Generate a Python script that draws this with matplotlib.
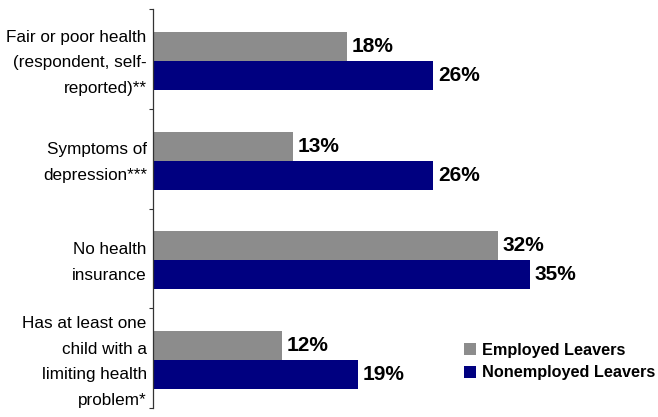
import matplotlib
matplotlib.use('Agg')
import numpy as np
import matplotlib.pyplot as plt
from matplotlib.patches import Patch

plt.rcParams['font.family'] = ['Liberation Sans', 'DejaVu Sans']

categories = ['Fair or poor health\n(respondent, self-\nreported)**',
              'Symptoms of\ndepression***',
              'No health\ninsurance',
              'Has at least one\nchild with a\nlimiting health\nproblem*']
employed = [18, 13, 32, 12]
nonemployed = [26, 26, 35, 19]
series_names = ['Employed Leavers', 'Nonemployed Leavers']

gray = '#8c8c8c'
navy = '#000080'

fig = plt.figure(figsize=(6.58, 4.17), dpi=100)
ax = fig.add_axes([153/658., 9/417., 1 - 153/658., 1 - 18/417.])

pos = np.arange(len(categories))
h = 0.29
ax.barh(pos - 0.125, employed, height=h, color=gray, edgecolor='none')
ax.barh(pos + 0.165, nonemployed, height=h, color=navy, edgecolor='none')

for p, v in zip(pos, employed):
    ax.text(v + 0.45, p - 0.125, '%d%%' % v, va='center', ha='left',
            fontsize=15, fontweight='bold')
for p, v in zip(pos, nonemployed):
    ax.text(v + 0.45, p + 0.165, '%d%%' % v, va='center', ha='left',
            fontsize=15, fontweight='bold')

ax.set_xlim(0, 46.9)
ax.set_ylim(len(categories) - 0.5, -0.5)

# labels on major ticks, tick marks on group boundaries
ax.set_yticks(pos + 0.04)
ax.set_yticklabels(categories, fontsize=12.3, linespacing=1.88, va='center')
ax.tick_params(axis='y', which='major', length=0, pad=4.5)
ax.set_yticks(np.arange(-0.5, len(categories), 1.0), minor=True)
ax.tick_params(axis='y', which='minor', length=3, width=0.8, direction='out', color='#333333')
ax.set_xticks([])

for s in ['top', 'right', 'bottom']:
    ax.spines[s].set_visible(False)
ax.spines['left'].set_color('#333333')
ax.spines['left'].set_linewidth(0.9)

handles = [Patch(facecolor=gray, edgecolor='none'), Patch(facecolor=navy, edgecolor='none')]
leg = fig.legend(handles, series_names, loc='upper left', bbox_to_anchor=(464/658., 1 - 343/417.),
                 frameon=False, handlelength=0.74, handleheight=0.74, handletextpad=0.37,
                 labelspacing=0.45, borderpad=0, borderaxespad=0,
                 prop={'weight': 'bold', 'size': 11.7})

fig.savefig('out.png', dpi=100)
